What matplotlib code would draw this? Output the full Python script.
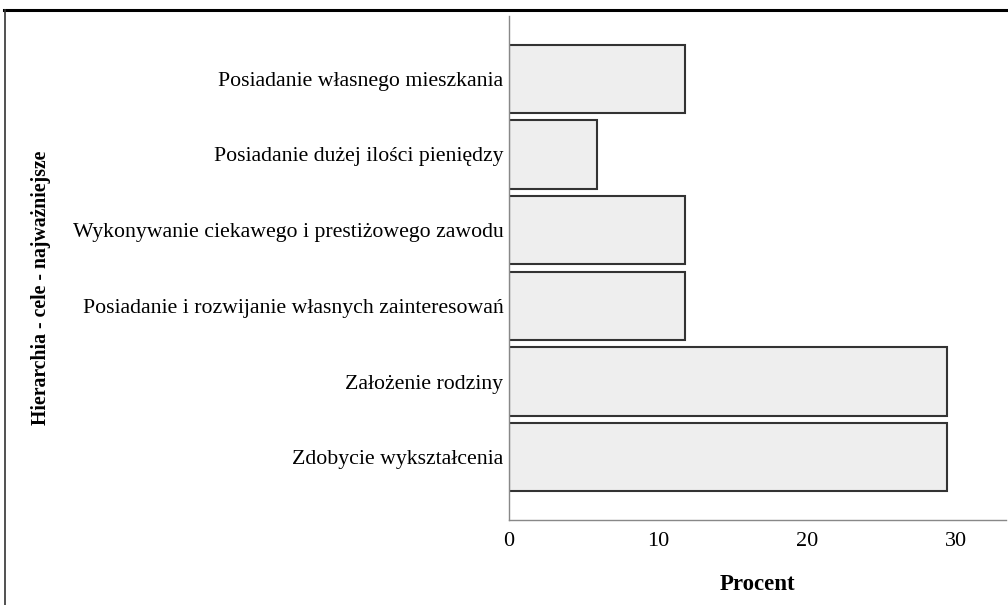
import matplotlib
matplotlib.use("Agg")
import matplotlib.pyplot as plt
from matplotlib.lines import Line2D

categories = [
    "Posiadanie własnego mieszkania",
    "Posiadanie dużej ilości pieniędzy",
    "Wykonywanie ciekawego i prestiżowego zawodu",
    "Posiadanie i rozwijanie własnych zainteresowań",
    "Założenie rodziny",
    "Zdobycie wykształcenia",
]
values = [11.8, 5.9, 11.8, 11.8, 29.4, 29.4]
xticks = [0, 10, 20, 30]

plt.rcParams['font.family'] = ['Liberation Serif', 'DejaVu Serif']

fig = plt.figure(figsize=(10.08, 6.05), dpi=100)
ax = fig.add_axes([509/1008, 1 - 520/605, (1006-509)/1008, (520-16)/605])

ypos = list(range(len(categories)))
ax.barh(ypos, values, height=0.9, color='#eeeeee', edgecolor='#333333', linewidth=1.5)
ax.set_ylim(len(categories) - 1 + 0.83, -0.83)
ax.set_xlim(0, (1006-509)/14.9)
ax.set_yticks(ypos)
ax.set_yticklabels(categories, fontsize=15.7)
ax.set_xticks(xticks)
ax.set_xticklabels([str(t) for t in xticks], fontsize=16)
ax.tick_params(axis='y', length=0, pad=4)
ax.tick_params(axis='x', length=0, pad=9)
for s in ['top', 'right']:
    ax.spines[s].set_visible(False)
for s in ['left', 'bottom']:
    ax.spines[s].set_color('#888888')
    ax.spines[s].set_linewidth(1.0)
ax.set_xlabel("Procent", fontsize=16.5, fontweight='bold', labelpad=16)
fig.text(41/1008, 1 - 288/605, "Hierarchia - cele - najważniejsze", rotation=90,
         fontsize=14.2, fontweight='bold', ha='center', va='center')

fig.add_artist(Line2D([4/1008, 1], [1 - 10/605, 1 - 10/605], color='black', linewidth=2.2, transform=fig.transFigure))
fig.add_artist(Line2D([4.5/1008, 4.5/1008], [0, 1 - 10/605], color='#333333', linewidth=1.2, transform=fig.transFigure))

fig.savefig("out.png", dpi=100)
